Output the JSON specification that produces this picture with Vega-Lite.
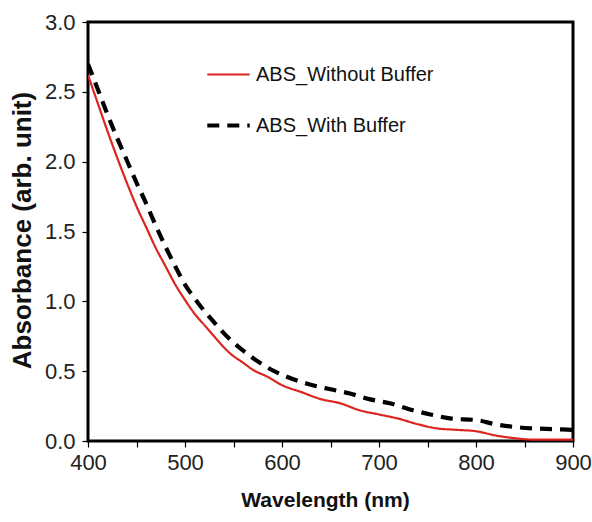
{
  "$schema": "https://vega.github.io/schema/vega-lite/v6.json",
  "autosize": "none",
  "width": 485,
  "height": 419,
  "padding": {"left": 88, "top": 22, "right": 19, "bottom": 81},
  "background": "white",
  "config": {
    "view": {"stroke": "black", "strokeWidth": 3},
    "axis": {
      "domain": false,
      "grid": false,
      "tickColor": "black",
      "tickSize": 6,
      "tickWidth": 1.2,
      "labelColor": "#222",
      "labelFont": "Liberation Sans",
      "labelFontSize": 22,
      "titleColor": "#111",
      "titleFont": "Liberation Sans",
      "titleFontWeight": "bold"
    },
    "legend": {
      "labelFont": "Liberation Sans",
      "labelFontSize": 20,
      "labelColor": "#111",
      "labelLimit": 400
    }
  },
  "data": {
    "values": [
      {"wl": 400, "abs": 2.62, "series": "ABS_Without Buffer"},
      {"wl": 410, "abs": 2.42, "series": "ABS_Without Buffer"},
      {"wl": 420, "abs": 2.22, "series": "ABS_Without Buffer"},
      {"wl": 430, "abs": 2.03, "series": "ABS_Without Buffer"},
      {"wl": 440, "abs": 1.85, "series": "ABS_Without Buffer"},
      {"wl": 450, "abs": 1.68, "series": "ABS_Without Buffer"},
      {"wl": 460, "abs": 1.53, "series": "ABS_Without Buffer"},
      {"wl": 470, "abs": 1.38, "series": "ABS_Without Buffer"},
      {"wl": 480, "abs": 1.25, "series": "ABS_Without Buffer"},
      {"wl": 490, "abs": 1.12, "series": "ABS_Without Buffer"},
      {"wl": 500, "abs": 1.01, "series": "ABS_Without Buffer"},
      {"wl": 510, "abs": 0.91, "series": "ABS_Without Buffer"},
      {"wl": 520, "abs": 0.83, "series": "ABS_Without Buffer"},
      {"wl": 530, "abs": 0.75, "series": "ABS_Without Buffer"},
      {"wl": 546, "abs": 0.63, "series": "ABS_Without Buffer"},
      {"wl": 560, "abs": 0.56, "series": "ABS_Without Buffer"},
      {"wl": 570, "abs": 0.51, "series": "ABS_Without Buffer"},
      {"wl": 585, "abs": 0.46, "series": "ABS_Without Buffer"},
      {"wl": 600, "abs": 0.40, "series": "ABS_Without Buffer"},
      {"wl": 620, "abs": 0.35, "series": "ABS_Without Buffer"},
      {"wl": 640, "abs": 0.30, "series": "ABS_Without Buffer"},
      {"wl": 660, "abs": 0.27, "series": "ABS_Without Buffer"},
      {"wl": 680, "abs": 0.22, "series": "ABS_Without Buffer"},
      {"wl": 700, "abs": 0.19, "series": "ABS_Without Buffer"},
      {"wl": 720, "abs": 0.16, "series": "ABS_Without Buffer"},
      {"wl": 740, "abs": 0.12, "series": "ABS_Without Buffer"},
      {"wl": 760, "abs": 0.09, "series": "ABS_Without Buffer"},
      {"wl": 780, "abs": 0.08, "series": "ABS_Without Buffer"},
      {"wl": 800, "abs": 0.07, "series": "ABS_Without Buffer"},
      {"wl": 820, "abs": 0.04, "series": "ABS_Without Buffer"},
      {"wl": 840, "abs": 0.02, "series": "ABS_Without Buffer"},
      {"wl": 860, "abs": 0.01, "series": "ABS_Without Buffer"},
      {"wl": 880, "abs": 0.01, "series": "ABS_Without Buffer"},
      {"wl": 900, "abs": 0.01, "series": "ABS_Without Buffer"},
      {"wl": 400, "abs": 2.70, "series": "ABS_With Buffer"},
      {"wl": 410, "abs": 2.52, "series": "ABS_With Buffer"},
      {"wl": 420, "abs": 2.34, "series": "ABS_With Buffer"},
      {"wl": 430, "abs": 2.17, "series": "ABS_With Buffer"},
      {"wl": 440, "abs": 2.01, "series": "ABS_With Buffer"},
      {"wl": 450, "abs": 1.85, "series": "ABS_With Buffer"},
      {"wl": 460, "abs": 1.70, "series": "ABS_With Buffer"},
      {"wl": 470, "abs": 1.54, "series": "ABS_With Buffer"},
      {"wl": 480, "abs": 1.39, "series": "ABS_With Buffer"},
      {"wl": 490, "abs": 1.25, "series": "ABS_With Buffer"},
      {"wl": 500, "abs": 1.12, "series": "ABS_With Buffer"},
      {"wl": 510, "abs": 1.02, "series": "ABS_With Buffer"},
      {"wl": 520, "abs": 0.93, "series": "ABS_With Buffer"},
      {"wl": 530, "abs": 0.85, "series": "ABS_With Buffer"},
      {"wl": 546, "abs": 0.73, "series": "ABS_With Buffer"},
      {"wl": 565, "abs": 0.62, "series": "ABS_With Buffer"},
      {"wl": 584, "abs": 0.53, "series": "ABS_With Buffer"},
      {"wl": 605, "abs": 0.46, "series": "ABS_With Buffer"},
      {"wl": 626, "abs": 0.41, "series": "ABS_With Buffer"},
      {"wl": 650, "abs": 0.37, "series": "ABS_With Buffer"},
      {"wl": 670, "abs": 0.34, "series": "ABS_With Buffer"},
      {"wl": 690, "abs": 0.30, "series": "ABS_With Buffer"},
      {"wl": 711, "abs": 0.27, "series": "ABS_With Buffer"},
      {"wl": 735, "abs": 0.22, "series": "ABS_With Buffer"},
      {"wl": 753, "abs": 0.19, "series": "ABS_With Buffer"},
      {"wl": 775, "abs": 0.16, "series": "ABS_With Buffer"},
      {"wl": 800, "abs": 0.15, "series": "ABS_With Buffer"},
      {"wl": 820, "abs": 0.12, "series": "ABS_With Buffer"},
      {"wl": 840, "abs": 0.10, "series": "ABS_With Buffer"},
      {"wl": 860, "abs": 0.09, "series": "ABS_With Buffer"},
      {"wl": 880, "abs": 0.085, "series": "ABS_With Buffer"},
      {"wl": 900, "abs": 0.08, "series": "ABS_With Buffer"}
    ]
  },
  "mark": {"type": "line", "interpolate": "monotone", "clip": true},
  "encoding": {
    "x": {
      "field": "wl",
      "type": "quantitative",
      "scale": {"domain": [400, 900], "nice": false, "zero": false},
      "axis": {
        "title": "Wavelength (nm)",
        "titleFontSize": 21,
        "titleX": 237,
        "titleY": 59,
        "titleBaseline": "middle",
        "values": [400, 450, 500, 550, 600, 650, 700, 750, 800, 850, 900],
        "labelExpr": "datum.value % 100 == 0 ? datum.label : ''",
        "labelPadding": 5,
        "labelFlush": false
      }
    },
    "y": {
      "field": "abs",
      "type": "quantitative",
      "scale": {"domain": [0, 3], "nice": false},
      "axis": {
        "title": "Absorbance (arb. unit)",
        "titleFontSize": 26,
        "titleX": -66,
        "titleY": 208,
        "titleAngle": -90,
        "titleAlign": "center",
        "titleBaseline": "middle",
        "values": [0, 0.5, 1, 1.5, 2, 2.5, 3],
        "format": ".1f",
        "labelPadding": 7,
        "labelFlush": false
      }
    },
    "color": {
      "field": "series",
      "type": "nominal",
      "scale": {"domain": ["ABS_Without Buffer", "ABS_With Buffer"], "range": ["#dc2420", "#000000"]},
      "legend": {
        "title": null,
        "orient": "none",
        "legendX": 117,
        "legendY": 30,
        "symbolType": "stroke",
        "symbolSize": 1800,
        "symbolStrokeWidth": 3,
        "labelOffset": 4,
        "rowPadding": 17
      }
    },
    "strokeDash": {
      "field": "series",
      "type": "nominal",
      "scale": {"domain": ["ABS_Without Buffer", "ABS_With Buffer"], "range": [[1, 0], [12, 8]]},
      "legend": {
        "title": null,
        "orient": "none",
        "legendX": 117,
        "legendY": 30,
        "symbolType": "stroke",
        "symbolSize": 1800,
        "symbolStrokeWidth": 3,
        "labelOffset": 4,
        "rowPadding": 17
      }
    },
    "strokeWidth": {
      "field": "series",
      "type": "nominal",
      "scale": {"domain": ["ABS_Without Buffer", "ABS_With Buffer"], "range": [2.2, 4.2]},
      "legend": null
    }
  }
}
